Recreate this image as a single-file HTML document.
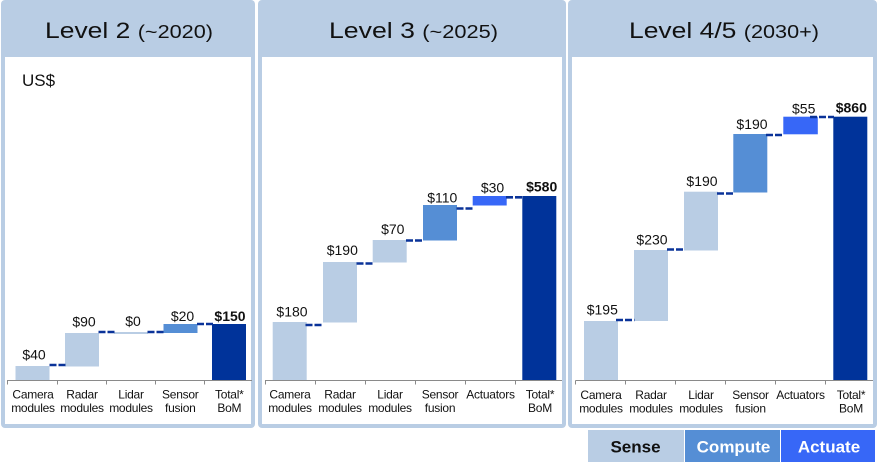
<!DOCTYPE html>
<html>
<head>
<meta charset="utf-8">
<style>
  html, body { margin:0; padding:0; background:#ffffff; }
  svg { display:block; }
  text { font-family: "Liberation Sans", Arial, sans-serif; }
  .cat { font-size:12px; fill:#111; letter-spacing:-0.25px; }
  .val { font-size:14px; fill:#111; }
  .tot { font-size:14px; fill:#111; font-weight:bold; }
  .leg { font-size:17px; font-weight:bold; }
  .con { stroke:#0a3399; stroke-width:2.6; stroke-dasharray:7 2; fill:none; }
  .axis { stroke:#8a8a8a; stroke-width:1; fill:none; }
</style>
</head>
<body>
<svg width="878" height="466" viewBox="0 0 878 466" xmlns="http://www.w3.org/2000/svg">
  <rect x="0" y="0" width="878" height="466" fill="#ffffff"/>

  <!-- Panels -->
  <rect x="1" y="0" width="254" height="428" rx="4" fill="#b9cde4"/>
  <rect x="5" y="57" width="246" height="367" fill="#ffffff"/>
  <rect x="258" y="0" width="308" height="428" rx="4" fill="#b9cde4"/>
  <rect x="262" y="57" width="300" height="367" fill="#ffffff"/>
  <rect x="568" y="0" width="309" height="428" rx="4" fill="#b9cde4"/>
  <rect x="572" y="57" width="301" height="367" fill="#ffffff"/>

  <!-- Headers -->
  <text x="45" y="38" textLength="168" lengthAdjust="spacingAndGlyphs" fill="#111"><tspan font-size="22">Level 2 </tspan><tspan font-size="18">(~2020)</tspan></text>
  <text x="329" y="38" textLength="169" lengthAdjust="spacingAndGlyphs" fill="#111"><tspan font-size="22">Level 3 </tspan><tspan font-size="18">(~2025)</tspan></text>
  <text x="629" y="38" textLength="190" lengthAdjust="spacingAndGlyphs" fill="#111"><tspan font-size="22">Level 4/5 </tspan><tspan font-size="18">(2030+)</tspan></text>

  <text x="22" y="86" font-size="17" fill="#111">US$</text>

  <!-- ===== Panel 1 ===== -->
  <rect x="15.5" y="366" width="34" height="15" fill="#b9cde4"/>
  <rect x="65" y="333" width="34" height="33.5" fill="#b9cde4"/>
  <rect x="114" y="332" width="34" height="2" fill="#b9cde4"/>
  <rect x="163.5" y="324" width="34" height="9" fill="#558ed5"/>
  <rect x="212" y="324" width="34" height="57" fill="#00339a"/>

  <line class="con" x1="49.5" y1="365" x2="66" y2="365"/>
  <line class="con" x1="98.5" y1="332" x2="115" y2="332"/>
  <line class="con" x1="147.5" y1="332" x2="164" y2="332"/>
  <line class="con" x1="197" y1="324" x2="213" y2="324"/>

  <path class="axis" d="M7 380.5 H252 M7.5 380.5 V384.5 M57.5 380.5 V384.5 M106.5 380.5 V384.5 M155.5 380.5 V384.5 M204.5 380.5 V384.5"/>

  <text class="val" x="34" y="359.3" text-anchor="middle">$40</text>
  <text class="val" x="84" y="326.7" text-anchor="middle">$90</text>
  <text class="val" x="133" y="326" text-anchor="middle">$0</text>
  <text class="val" x="182.5" y="321" text-anchor="middle">$20</text>
  <text class="tot" x="230" y="321" text-anchor="middle">$150</text>

  <text class="cat" text-anchor="middle"><tspan x="33" y="398.5">Camera</tspan><tspan x="33" y="412.2">modules</tspan></text>
  <text class="cat" text-anchor="middle"><tspan x="82" y="398.5">Radar</tspan><tspan x="82" y="412.2">modules</tspan></text>
  <text class="cat" text-anchor="middle"><tspan x="131" y="398.5">Lidar</tspan><tspan x="131" y="412.2">modules</tspan></text>
  <text class="cat" text-anchor="middle"><tspan x="180.3" y="398.5">Sensor</tspan><tspan x="180.3" y="412.2">fusion</tspan></text>
  <text class="cat" text-anchor="middle"><tspan x="229.3" y="398.5">Total*</tspan><tspan x="229.3" y="412.2">BoM</tspan></text>

  <!-- ===== Panel 2 ===== -->
  <rect x="272.7" y="322" width="34" height="58" fill="#b9cde4"/>
  <rect x="323" y="262" width="34" height="60.5" fill="#b9cde4"/>
  <rect x="372.7" y="240" width="34" height="22.5" fill="#b9cde4"/>
  <rect x="423" y="205" width="34" height="35.5" fill="#558ed5"/>
  <rect x="472.7" y="196" width="34" height="9.5" fill="#3767f7"/>
  <rect x="522.3" y="196" width="34" height="184" fill="#00339a"/>

  <line class="con" x1="305.5" y1="325" x2="323.5" y2="325"/>
  <line class="con" x1="356.5" y1="263.5" x2="373.5" y2="263.5"/>
  <line class="con" x1="406" y1="240.5" x2="423.5" y2="240.5"/>
  <line class="con" x1="456.5" y1="208.5" x2="473.5" y2="208.5"/>
  <line class="con" x1="506" y1="197.3" x2="523" y2="197.3"/>

  <path class="axis" d="M265 380.5 H562 M265.5 380.5 V384.5 M315.5 380.5 V384.5 M365.5 380.5 V384.5 M415.5 380.5 V384.5 M465.5 380.5 V384.5 M515.5 380.5 V384.5"/>

  <text class="val" x="292" y="316.7" text-anchor="middle">$180</text>
  <text class="val" x="342.3" y="255" text-anchor="middle">$190</text>
  <text class="val" x="392.8" y="234" text-anchor="middle">$70</text>
  <text class="val" x="442.3" y="202.3" text-anchor="middle">$110</text>
  <text class="val" x="492.5" y="192.7" text-anchor="middle">$30</text>
  <text class="tot" x="541.7" y="191.7" text-anchor="middle">$580</text>

  <text class="cat" text-anchor="middle"><tspan x="290" y="398.5">Camera</tspan><tspan x="290" y="412.2">modules</tspan></text>
  <text class="cat" text-anchor="middle"><tspan x="340" y="398.5">Radar</tspan><tspan x="340" y="412.2">modules</tspan></text>
  <text class="cat" text-anchor="middle"><tspan x="390" y="398.5">Lidar</tspan><tspan x="390" y="412.2">modules</tspan></text>
  <text class="cat" text-anchor="middle"><tspan x="440" y="398.5">Sensor</tspan><tspan x="440" y="412.2">fusion</tspan></text>
  <text class="cat" text-anchor="middle"><tspan x="490.5" y="398.5">Actuators</tspan></text>
  <text class="cat" text-anchor="middle"><tspan x="540" y="398.5">Total*</tspan><tspan x="540" y="412.2">BoM</tspan></text>

  <!-- ===== Panel 3 ===== -->
  <rect x="584" y="321" width="34" height="59.5" fill="#b9cde4"/>
  <rect x="634" y="250" width="34" height="71" fill="#b9cde4"/>
  <rect x="684" y="191.7" width="34" height="58.8" fill="#b9cde4"/>
  <rect x="733.3" y="134" width="34" height="58.5" fill="#558ed5"/>
  <rect x="783.3" y="116.7" width="34.5" height="17.6" fill="#3767f7"/>
  <rect x="833.3" y="116.7" width="34" height="263.8" fill="#00339a"/>

  <line class="con" x1="616" y1="320" x2="634.5" y2="320"/>
  <line class="con" x1="667" y1="249.5" x2="684.5" y2="249.5"/>
  <line class="con" x1="717" y1="193.5" x2="734" y2="193.5"/>
  <line class="con" x1="766" y1="135" x2="783.5" y2="135"/>
  <line class="con" x1="810" y1="117" x2="834" y2="117"/>

  <path class="axis" d="M575.5 380.5 H873 M575.5 380.5 V384.5 M625.5 380.5 V384.5 M675.5 380.5 V384.5 M725.5 380.5 V384.5 M775.5 380.5 V384.5 M825.5 380.5 V384.5"/>

  <text class="val" x="602.3" y="314.3" text-anchor="middle">$195</text>
  <text class="val" x="652" y="244.3" text-anchor="middle">$230</text>
  <text class="val" x="702" y="186" text-anchor="middle">$190</text>
  <text class="val" x="752" y="129" text-anchor="middle">$190</text>
  <text class="val" x="803.7" y="113.3" text-anchor="middle">$55</text>
  <text class="tot" x="851.3" y="112.7" text-anchor="middle">$860</text>

  <text class="cat" text-anchor="middle"><tspan x="601" y="399">Camera</tspan><tspan x="601" y="412.7">modules</tspan></text>
  <text class="cat" text-anchor="middle"><tspan x="651" y="399">Radar</tspan><tspan x="651" y="412.7">modules</tspan></text>
  <text class="cat" text-anchor="middle"><tspan x="701" y="399">Lidar</tspan><tspan x="701" y="412.7">modules</tspan></text>
  <text class="cat" text-anchor="middle"><tspan x="750.5" y="399">Sensor</tspan><tspan x="750.5" y="412.7">fusion</tspan></text>
  <text class="cat" text-anchor="middle"><tspan x="800.5" y="399">Actuators</tspan></text>
  <text class="cat" text-anchor="middle"><tspan x="851" y="399">Total*</tspan><tspan x="851" y="412.7">BoM</tspan></text>

  <!-- Legend -->
  <rect x="588" y="430" width="96" height="32" fill="#b9cde4"/>
  <rect x="685" y="430" width="95" height="32" fill="#558ed5"/>
  <rect x="781" y="430" width="94" height="32" fill="#3767f7"/>
  <text class="leg" x="635.5" y="452.7" text-anchor="middle" fill="#111">Sense</text>
  <text class="leg" x="733.5" y="452.7" text-anchor="middle" fill="#ffffff">Compute</text>
  <text class="leg" x="829" y="452.7" text-anchor="middle" fill="#ffffff">Actuate</text>
</svg>
</body>
</html>
